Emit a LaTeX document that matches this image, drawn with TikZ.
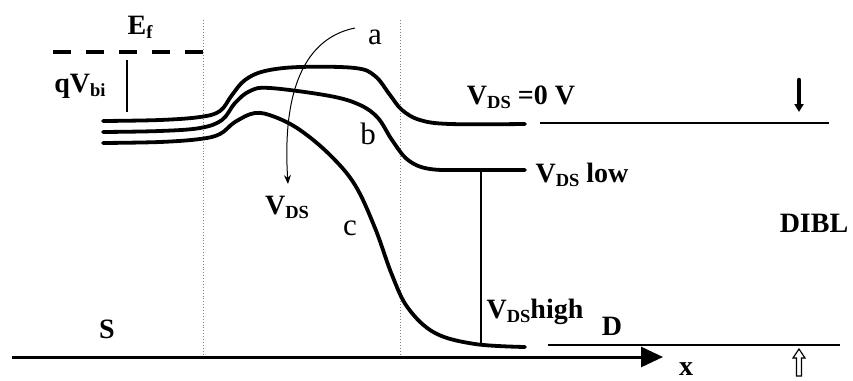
\documentclass[tikz,border=0pt]{standalone}
\usepackage{fontspec}
\setmainfont{Liberation Serif}
\usetikzlibrary{arrows.meta}
\newcommand{\sbs}[1]{\raisebox{-0.3ex}{\fontsize{18.5}{19}\selectfont #1}}
\tikzset{
  band/.style={line width=3.8pt, line cap=round, line join=round},
  thinline/.style={line width=2.4pt},
  sep/.style={gray, dotted, line width=0.9pt},
  lbl/.style={font=\bfseries\fontsize{28}{30}\selectfont, inner sep=0pt},
  curvelbl/.style={font=\fontsize{31}{33}\selectfont, inner sep=0pt},
}
\begin{document}
\begin{tikzpicture}[x=1pt,y=-1pt]
\useasboundingbox (0,0) rectangle (853,380);
% separators
\draw[sep] (203,20) -- (203,357);
\draw[sep] (400,20) -- (400,357);
% Fermi level
\coordinate (ef1) at (53,52);
\coordinate (ef2) at (203,52);
\draw[line width=3.5pt, dash pattern=on 18pt off 15pt] (ef1) -- (ef2);
\node[lbl] (Ef) at (140,27) {E\sbs{f}};
\coordinate (vb1) at (127,60);
\coordinate (vb2) at (127,112);
\draw[line width=2pt] (vb1) -- (vb2);
\node[lbl] (qv) at (80,86) {qV\sbs{bi}};
% band curves
\draw[band] plot[smooth, tension=0.6] coordinates {(103,121) (160,120) (200,117) (220,111) (232,95) (245,80) (265,71) (300,67) (355,68) (375,76) (390,95) (402,110) (420,120) (450,124) (525,124)};
\draw[band] plot[smooth, tension=0.6] coordinates {(103,132) (160,131) (200,128) (222,120) (235,103) (250,91) (270,88) (330,96) (360,105) (378,118) (392,140) (408,160) (430,169) (470,170) (525,170)};
\draw[band] plot[smooth, tension=0.6] coordinates {(103,143) (160,142) (200,139) (220,134) (235,122) (255,113) (275,117) (300,130) (330,155) (355,185) (375,228) (392,275) (408,308) (435,333) (475,344) (525,347)};
% right levels
\coordinate (r1a) at (540,123);
\coordinate (r1b) at (829,123);
\coordinate (r2a) at (548,345);
\coordinate (r2b) at (840,345);
\draw[thinline] (r1a) -- (r1b);
\draw[thinline] (r2a) -- (r2b);
\coordinate (v1) at (481,170);
\coordinate (v2) at (481,344);
\draw[line width=1.5pt] (v1) -- (v2);
% x axis
\coordinate (ax1) at (12,357);
\coordinate (ax2) at (663,357);
\draw[line width=3pt, -{Triangle[length=22pt,width=20pt]}] (ax1) -- (ax2);
\node[lbl] (xl) at (686,369) {x};
% labels
\node[curvelbl] (a) at (375,37) {a};
\node[curvelbl] (b) at (368,134) {b};
\node[curvelbl] (c) at (350,228) {c};
\node[lbl] (vds) at (287,207) {V\sbs{DS}};
\node[lbl] (v0) at (521,97) {V\sbs{DS} =0 V};
\node[lbl] (vlow) at (582,175) {V\sbs{DS} low};
\node[lbl] (vhigh) at (535,312) {V\sbs{DS}high};
\node[lbl] (D) at (612,326) {D};
\node[lbl] (S) at (107,329) {S};
\node[lbl] (dibl) at (814,223) {DIBL};
% pointer arrow
\coordinate (p0) at (355,28);
\coordinate (p1) at (288,184);
\draw[line width=1pt, -{Stealth[length=9pt,width=7pt]}] (p0) .. controls (305,38) and (282,90) .. (p1);
% DIBL arrows
\coordinate (d1) at (799,80);
\coordinate (d2) at (799,112);
\draw[line width=4.5pt, line cap=round, -{Triangle[length=8pt,width=9pt]}] (d1) -- (d2);
\draw[line width=1.2pt, fill=white] (799,349) -- (805,358) -- (801.5,358) -- (801.5,376) -- (796.5,376) -- (796.5,358) -- (793,358) -- cycle;
\end{tikzpicture}
\end{document}
